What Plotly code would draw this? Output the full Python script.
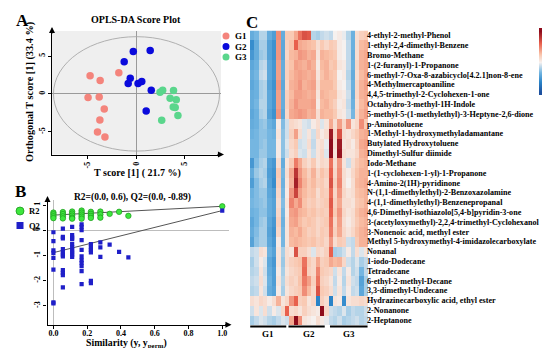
import plotly.graph_objects as go

W, H = 550, 348
def px(x): return x / W
def py(y): return 1 - y / H

SERIF = "Liberation Serif"

# ---------------- Panel A data (OPLS-DA scores) ----------------
g1_t = [-4.70, -3.67, -1.76, -4.91, -3.77, -3.25, -3.70, -3.94, -3.18]
g1_o = [2.38, 1.76, 2.78, -0.48, -0.40, -1.98, -3.44, -5.02, -5.68]
g2_t = [-0.28, 1.45, -1.21, -0.59, -0.80, 0.21, 0.59, 1.56, 1.04]
g2_o = [5.60, 5.73, 4.23, 2.07, 1.37, 1.37, 1.63, 0.48, -2.25]
g3_t = [2.73, 2.46, 3.84, 3.49, 4.12, 3.81, 4.01, 4.29, 2.63]
g3_o = [0.48, 0.22, 0.44, -0.57, -0.79, -1.72, -1.81, -2.86, -3.48]
a_ticks = [-5, 0, 5]

# ---------------- Panel B data (permutation test) ----------------
r2_sim = [0, 0, 0, 0,
          0.056, 0.056, 0.056, 0.056,
          0.111, 0.111, 0.111, 0.111, 0.111,
          0.167, 0.167, 0.167, 0.167, 0.167,
          0.222, 0.222, 0.222, 0.222,
          0.278, 0.278, 0.278,
          0.333, 0.389, 0.444, 1.0]
r2_val = [0.70, 0.63, 0.55, 0.48,
          0.72, 0.64, 0.55, 0.47,
          0.74, 0.66, 0.58, 0.50, 0.46,
          0.78, 0.70, 0.62, 0.54, 0.46,
          0.73, 0.65, 0.57, 0.49,
          0.74, 0.63, 0.50,
          0.65, 0.73, 0.57, 0.95]
q2_sim = [0, 0, 0, 0, 0, 0, 0, 0,
          0.056, 0.056, 0.056, 0.056, 0.056, 0.056, 0.056, 0.056, 0.056, 0.056, 0.056,
          0.111, 0.111, 0.111, 0.111, 0.111, 0.111, 0.111, 0.111, 0.111, 0.111,
          0.167, 0.167, 0.167, 0.167, 0.167, 0.167, 0.167, 0.167, 0.167, 0.167, 0.167,
          0.222, 0.222, 0.222, 0.222, 0.222, 0.222,
          0.278, 0.278, 0.278,
          0.333, 0.389, 0.444, 1.0]
q2_val = [-0.08, -0.43, -0.80, -0.90, -1.10, -1.56, -2.86, -2.90,
          0.06, -0.26, -0.32, -0.75, -0.87, -0.97, -1.04, -1.58, -1.69, -1.78, -2.27,
          0.13, -0.19, -0.29, -0.35, -0.55, -0.68, -0.80, -0.88, -0.97, -1.06,
          0.23, 0.13, 0.00, -0.39, -0.78, -1.04, -1.19, -1.30, -1.43, -1.62, -2.14,
          -0.55, -0.68, -0.78, -0.88, -2.01, -2.10,
          -0.48, -0.68, -1.06,
          -0.57, -0.86, -1.08, 0.78]
fit_x = [0.0, 1.0]
r2_fit = [0.60, 0.95]
q2_fit = [-0.89, 0.78]
b_xticks = [0.0, 0.2, 0.4, 0.6, 0.8, 1.0]
b_xtext = ["0.0", "0.2", "0.4", "0.6", "0.8", "1.0"]
b_yticks = [-3, -2, -1, 0, 1]

# ---------------- Panel C data (heatmap) ----------------
compounds = [
    "4-ethyl-2-methyl-Phenol",
    "1-ethyl-2,4-dimethyl-Benzene",
    "Bromo-Methane",
    "1-(2-furanyl)-1-Propanone",
    "6-methyl-7-Oxa-8-azabicyclo[4.2.1]non-8-ene",
    "4-Methylmercaptoaniline",
    "4,4,5-trimethyl-2-Cyclohexen-1-one",
    "Octahydro-3-methyl-1H-Indole",
    "5-methyl-5-(1-methylethyl)-3-Heptyne-2,6-dione",
    "p-Aminotoluene",
    "1-Methyl-1-hydroxymethyladamantane",
    "Butylated Hydroxytoluene",
    "Dimethyl-Sulfur diimide",
    "Iodo-Methane",
    "1-(1-cyclohexen-1-yl)-1-Propanone",
    "4-Amino-2(1H)-pyridinone",
    "N-(1,1-dimethylethyl)-2-Benzoxazolamine",
    "4-(1,1-dimethylethyl)-Benzenepropanal",
    "4,6-Dimethyl-isothiazolo[5,4-b]pyridin-3-one",
    "3-(acetyloxymethyl)-2,2,4-trimethyl-Cyclohexanol",
    "3-Nonenoic acid, methyl ester",
    "Methyl 5-hydroxymethyl-4-imidazolecarboxylate",
    "Nonanal",
    "1-iodo-Dodecane",
    "Tetradecane",
    "6-ethyl-2-methyl-Decane",
    "3,3-dimethyl-Undecane",
    "Hydrazinecarboxylic acid, ethyl ester",
    "2-Nonanone",
    "2-Heptanone",
]
samples = list(range(27))
heat_values = [
    [-1.2, -1.0, -0.5, -0.5, -1.2, -1.5, 1.3, -1.2, 0.6,   0.6, 1.0, 1.6, 2.0, 1.9, -0.5, -0.6, -0.4, -0.3,   -0.4, 0.0, 0.1, -0.1, -0.5, -1.1, 0.3, 0.5, 0.6],
    [-1.8, -1.2, -0.6, -0.6, -1.4, -1.7, 1.2, -1.3, 0.5,   0.7, 1.8, 1.0, 0.9, 0.8, 0.7, 0.3, 0.6, 0.4,        0.6, 0.5, 0.1, 0.0, -0.4, -1.1, 0.3, 0.8, 0.9],
    [-1.6, -1.2, -0.7, -0.6, -1.4, -1.7, 1.2, -1.3, 0.4,   0.8, 0.9, 1.2, 1.1, 0.9, 1.0, 0.2, 0.9, 0.8,        0.7, 0.6, 0.1, 0.0, -0.4, -1.2, 0.3, 0.9, 1.0],
    [-1.3, -1.1, -0.5, -0.4, -1.3, -1.6, 1.1, -1.2, 0.5,   0.7, 1.1, 1.0, 0.9, 1.1, 0.9, 0.1, 0.8, 0.9,        0.6, 0.7, 0.2, 0.1, -0.4, -1.1, 0.4, 0.9, 1.0],
    [-1.2, -1.0, -0.4, -0.3, -1.3, -1.6, 1.1, -1.2, 0.5,   0.8, 1.0, 1.1, 1.0, 0.9, 1.0, 0.2, 0.7, 0.9,        0.7, 0.6, 0.0, 0.1, -0.5, -1.2, 0.3, 0.8, 1.0],
    [-1.3, -1.1, -0.6, -0.5, -1.4, -1.7, 1.2, -1.3, 0.4,   0.9, 1.0, 1.2, 0.9, 1.0, 1.1, 0.3, 0.8, 0.8,        0.8, 0.6, 0.1, 0.0, -0.4, -1.1, 0.4, 0.9, 1.1],
    [-1.2, -1.1, -0.6, -0.5, -1.3, -1.6, 1.1, -1.2, 0.5,   0.8, 1.1, 1.1, 1.0, 0.9, 1.0, 0.2, 0.9, 0.8,        0.7, 0.7, 0.2, 0.1, -0.3, -1.2, 0.4, 0.9, 1.0],
    [-1.2, -1.0, -0.5, -0.5, -1.3, -1.6, 1.1, -1.2, 0.5,   0.9, 1.2, 1.0, 1.0, 1.0, 1.1, 0.1, 0.8, 0.9,        0.7, 0.5, 0.1, 0.2, -0.4, -1.1, 0.3, 0.8, 1.0],
    [-1.3, -1.1, -0.6, -0.5, -1.4, -1.7, 1.2, -1.3, 0.4,   1.0, 1.1, 1.2, 1.1, 0.9, 1.0, 0.3, 0.9, 0.8,        0.8, 0.6, 0.2, 0.1, -0.3, -1.0, 0.4, 0.9, 1.1],
    [-1.2, -1.1, -0.8, -0.7, -1.1, -1.3, 0.1, -0.9, -0.3,  0.4, 0.3, 0.2, -0.2, -0.3, 0.1, 0.3, -0.2, 0.2,     1.0, 0.3, 1.1, 0.4, 1.2, 0.2, 0.4, 1.3, 0.6],
    [-1.1, -1.0, -0.8, -0.8, -1.0, -1.1, 0.2, -0.8, -0.3,  0.5, 1.1, 0.3, -0.2, 0.2, -0.3, 0.4, 0.1, 0.3,      2.8, 0.4, 2.0, 0.3, 0.2, 0.4, 0.6, 0.9, 1.0],
    [-1.0, -1.0, -0.8, -0.7, -1.0, -1.0, 0.1, -0.8, -0.2,  0.4, 0.6, -0.3, -0.2, 0.3, -0.4, 0.2, 0.3, -0.1,    3.0, 0.3, 2.8, 0.2, 0.3, 0.1, 0.5, 1.0, 1.1],
    [-1.0, -1.0, -0.7, -0.7, -1.0, -1.0, 0.1, -0.8, -0.3,  0.3, 0.5, -0.2, -0.3, 0.2, -0.3, 0.2, 0.4, -0.2,    3.0, 0.2, 2.9, 0.3, 0.2, 0.2, 0.4, 0.9, 1.0],
    [-1.6, -0.9, -0.6, -0.5, -1.4, -1.6, 0.3, -1.2, 0.2,   0.6, 1.5, 1.0, 0.5, 0.3, 0.6, 0.2, 0.4, 0.3,        1.6, 0.3, 1.2, 0.2, -0.3, 0.3, 0.6, 0.8, 0.9],
    [-1.2, -0.7, -0.5, -0.6, -1.5, -1.7, 0.6, -1.0, 0.3,   1.0, 2.4, 1.2, 0.8, 0.5, 0.9, 0.4, 0.7, 0.5,        1.8, 0.4, 1.3, 0.3, 0.1, 0.4, 0.7, 0.9, 0.9],
    [-1.5, -0.9, -0.6, -0.5, -1.4, -1.8, 0.5, -1.1, 0.2,   0.9, 2.7, 1.4, 0.9, 0.6, 0.8, 0.5, 0.6, 0.4,        2.0, 0.5, 1.4, 0.3, 0.0, 0.3, 0.8, 0.9, 1.0],
    [-1.1, -0.9, -0.7, -0.7, -1.3, -1.5, 0.4, -1.0, 0.1,   1.2, 2.2, 1.1, 0.8, 0.6, 0.7, 0.3, 0.6, 0.5,        1.7, 0.4, 1.2, 0.4, 0.2, 0.3, 0.7, 0.8, 0.9],
    [-1.0, -0.9, -0.8, -0.7, -1.2, -1.4, 0.3, -0.9, 0.2,   1.4, 1.0, 1.3, 0.7, 0.5, 0.6, 0.4, 0.5, 0.6,        1.9, 0.5, 1.0, 0.3, 0.3, 0.2, 0.6, 0.7, 0.9],
    [-1.1, -1.0, -0.8, -0.8, -1.2, -1.4, 0.4, -1.0, 0.1,   1.1, 1.2, 0.9, 0.8, 0.6, 0.7, 0.5, 0.6, 0.5,        1.8, 0.6, 1.2, 0.4, 0.2, 0.3, 0.7, 0.9, 1.0],
    [-1.3, -1.0, -0.7, -0.6, -1.3, -1.6, 0.5, -1.1, 0.2,   1.0, 1.1, 0.8, 0.6, 0.7, 0.6, 0.4, 0.5, 0.6,        1.6, 0.4, 1.1, 0.3, 0.1, 0.3, 0.6, 0.8, 0.9],
    [-1.2, -0.9, -0.6, -0.6, -1.4, -1.7, 0.4, -1.0, 0.2,   0.9, 0.8, 1.0, 0.7, 0.5, 0.6, 0.4, 0.6, 0.5,        1.5, 0.5, 1.0, 0.4, 0.2, 0.4, 0.7, 0.9, 1.0],
    [-1.4, -0.8, -0.6, -0.6, -1.3, -1.6, 0.1, -1.0, 0.2,   0.8, 0.9, 0.8, 0.7, 0.6, 0.7, 0.5, 0.6, 0.4,        1.2, 0.3, 0.6, 0.5, -0.3, -0.4, 0.6, 0.9, 0.9],
    [-0.4, -0.3, 0.3, 0.2, -1.1, -1.4, 0.2, -0.6, 0.3,     0.2, 2.0, 0.5, 0.5, 0.3, -0.2, 0.4, 0.3, 0.5,       1.8, -0.6, -0.5, -0.3, 0.1, -0.4, 0.3, -0.2, 0.2],
    [-0.6, -0.3, 0.1, -0.2, -1.3, -1.6, 0.2, -0.7, 0.3,    0.5, 0.6, 0.7, 1.6, 0.6, 0.4, 1.0, 0.5, 0.6,        1.0, 0.8, 0.9, 0.4, -0.3, -0.5, -0.2, -0.6, -0.4],
    [-0.5, -0.4, 0.2, -0.3, -1.2, -1.5, 0.1, -0.6, 0.2,    0.4, 0.5, 0.6, 1.7, 0.5, 0.4, 1.4, 0.6, 0.5,        0.4, -0.3, 0.2, -0.4, 0.1, -0.5, -0.3, -1.0, -0.4],
    [-0.4, -0.3, 0.3, -0.2, -1.1, -1.5, 0.2, -0.5, 0.3,    0.5, 0.4, 0.7, 1.5, 1.1, 0.5, 1.6, 0.5, 0.4,        0.2, -0.4, 0.1, -0.5, 0.2, -0.3, -0.4, -1.4, -0.6],
    [-0.5, -0.4, 0.2, -0.3, -1.2, -1.4, 0.1, -0.6, 0.2,    0.4, 0.5, 0.6, 1.3, 0.8, 0.4, 2.0, 0.6, 0.5,        0.3, -0.3, 0.2, -0.4, 0.1, -0.4, -0.3, -1.3, -0.6],
    [0.3, 0.2, 0.4, 0.3, 0.1, 0.3, 0.9, 0.2, 0.4,          1.2, 1.8, 0.5, 0.6, 0.2, 0.4, -2.0, 0.5, 0.3,       -2.0, 0.2, 0.1, -1.8, 0.2, 0.3, 0.3, 0.4, 0.3],
    [-0.3, 0.2, -0.2, 0.3, -0.3, 0.1, -0.2, 0.4, 1.8,      0.3, 0.4, 0.2, 0.5, 0.3, 0.2, 0.1, 3.0, 0.4,        -0.3, -0.4, -0.5, -0.2, -0.6, -0.4, -0.5, -0.5, -0.3],
    [-0.6, -0.4, -0.2, -0.3, -0.5, -0.6, -0.4, -0.2, -0.3, 1.0, 3.0, 1.3, 0.2, 0.1, 0.0, 0.3, 0.1, -0.1,       -0.4, -0.5, -0.3, -0.6, -0.5, -0.4, -0.3, -0.5, -0.4],
]
group_names = ["G1", "G2", "G3"]

# colour key: levels shown as a slim strip, with its tick labels
cbar_levels = [-3.0, -2.5, -2.0, -1.5, -1.0, -0.5, 0.0, 0.5, 1.0, 1.5, 2.0, 2.5, 3.0]
cbar_ticks = [3, 2, 1, 0, -1, -2, -3]

colorscale = [
    [0.0, "#1d4f9e"], [0.17, "#2a84c8"], [0.33, "#72b5e1"], [0.5, "#f6f1ef"],
    [0.62, "#f9c2a8"], [0.8, "#e8604d"], [1.0, "#8e0c1c"],
]

fig = go.Figure()

# Panel A scatter
for t, o, col, nm in [(g1_t, g1_o, "#f4847c", "G1"),
                      (g2_t, g2_o, "#0a0adc", "G2"),
                      (g3_t, g3_o, "#5ad68c", "G3")]:
    fig.add_trace(go.Scatter(x=t, y=o, mode="markers", name=nm, showlegend=False,
                             marker=dict(size=7.5, color=col), xaxis="x", yaxis="y"))

# Panel B
fig.add_trace(go.Scatter(x=fit_x, y=r2_fit, mode="lines", line=dict(color="#555", width=1),
                         showlegend=False, xaxis="x2", yaxis="y2"))
fig.add_trace(go.Scatter(x=fit_x, y=q2_fit, mode="lines", line=dict(color="#555", width=1),
                         showlegend=False, xaxis="x2", yaxis="y2"))
fig.add_trace(go.Scatter(x=r2_sim, y=r2_val, mode="markers", name="R2", showlegend=False,
                         marker=dict(size=5.5, color="#3ee63e", line=dict(color="#1c9a1c", width=0.7)),
                         xaxis="x2", yaxis="y2"))
fig.add_trace(go.Scatter(x=q2_sim, y=q2_val, mode="markers", name="Q2", showlegend=False,
                         marker=dict(size=4.2, symbol="square", color="#1f1fc8"),
                         xaxis="x2", yaxis="y2"))

# Panel C heatmap
fig.add_trace(go.Heatmap(
    z=heat_values, x=samples, y=compounds, colorscale=colorscale, zmin=-3, zmax=3,
    xaxis="x3", yaxis="y3", showscale=False,
))
# colour key strip
fig.add_trace(go.Heatmap(
    z=[[v] for v in cbar_levels], x=[0], y=cbar_levels, colorscale=colorscale,
    zmin=-3, zmax=3, zsmooth="best", showscale=False, xaxis="x4", yaxis="y4",
))

tickfont = dict(family=SERIF, size=8, color="black", weight="bold")

fig.update_layout(
    width=W, height=H, margin=dict(l=0, r=0, t=0, b=0),
    paper_bgcolor="white", plot_bgcolor="rgba(0,0,0,0)",
    font=dict(family=SERIF, color="black"),
    xaxis=dict(domain=[px(44), px(213)], range=[-8.6, 8.7], anchor="y",
               tickvals=a_ticks, ticktext=[str(v) for v in a_ticks], tickangle=-90,
               showline=True, linecolor="black", linewidth=1.2, ticks="outside", ticklen=3,
               tickcolor="black", showgrid=False, zeroline=True, zerolinecolor="#9a9a9a",
               zerolinewidth=0.8, tickfont=tickfont),
    yaxis=dict(domain=[py(146.5), py(23)], range=[-8.0, 8.3], anchor="x",
               tickvals=a_ticks, ticktext=[str(v) for v in a_ticks], tickangle=-90,
               showline=True, linecolor="black", linewidth=1.2, ticks="outside", ticklen=3,
               tickcolor="black", showgrid=False, zeroline=True, zerolinecolor="#9a9a9a",
               zerolinewidth=0.8, tickfont=tickfont),
    xaxis2=dict(domain=[px(39.5), px(221)], range=[-0.035, 1.04], anchor="y2",
                tickvals=b_xticks, ticktext=b_xtext, ticklabelstandoff=-2,
                showline=True, linecolor="black", linewidth=1.2, ticks="outside", ticklen=3,
                tickcolor="black", showgrid=False, zeroline=True, zerolinecolor="#bdbdbd",
                zerolinewidth=0.8, tickfont=tickfont),
    yaxis2=dict(domain=[py(316.7), py(192)], range=[-3.75, 1.2], anchor="x2",
                tickvals=b_yticks, ticktext=[str(v) for v in b_yticks], tickangle=-90,
                showline=True, linecolor="black", linewidth=1.2, ticks="outside", ticklen=3,
                tickcolor="black", showgrid=False, zeroline=True, zerolinecolor="#bdbdbd",
                zerolinewidth=0.8, tickfont=tickfont),
    xaxis3=dict(domain=[px(242), px(360)], range=[-0.5, 26.5], anchor="y3", visible=False),
    yaxis3=dict(domain=[py(317), py(22.5)], anchor="x3", side="right", autorange="reversed",
                tickmode="array", tickvals=compounds, ticktext=compounds,
                ticks="", showgrid=False, zeroline=False, showline=False,
                ticklabelstandoff=-2,
                tickfont=dict(family=SERIF, size=8.1, color="black", weight="bold")),
    xaxis4=dict(domain=[px(531), px(536)], range=[-0.5, 0.5], anchor="y4", visible=False),
    yaxis4=dict(domain=[py(87), py(20)], range=[-3.25, 3.25], anchor="x4", side="right",
                tickvals=cbar_ticks, ticktext=[str(v) for v in cbar_ticks],
                ticks="", showgrid=False, zeroline=False, showline=False,
                ticklabelstandoff=1, automargin=False,
                tickfont=dict(family=SERIF, size=5.5, color="black")),
)

shapes = []
# grey background of score plot
shapes.append(dict(type="rect", xref="x domain", yref="y domain", x0=0, x1=1, y0=0, y1=1,
                   fillcolor="#efefef", line=dict(width=0), layer="below"))
# confidence ellipse
shapes.append(dict(type="circle", xref="x", yref="y", x0=-8.45, x1=8.55, y0=-7.55, y1=7.55,
                   line=dict(color="#a8a8a8", width=0.9)))
# group bars under heatmap
for x0, x1 in [(-0.45, 7.8), (8.3, 16.6), (17.8, 26.4)]:
    shapes.append(dict(type="line", xref="x3", yref="paper", x0=x0, x1=x1,
                       y0=py(318.5), y1=py(318.5), line=dict(color="black", width=1.8)))
# manual legend A
for i, col in enumerate(["#f4847c", "#0a0adc", "#5ad68c"]):
    cy = 28 + i * 10.5
    shapes.append(dict(type="circle", xref="paper", yref="paper",
                       x0=px(214.5), x1=px(221.5), y0=py(cy + 3.5), y1=py(cy - 3.5),
                       fillcolor=col, line=dict(width=0)))
# manual legend B
shapes.append(dict(type="circle", xref="paper", yref="paper",
                   x0=px(8), x1=px(16), y0=py(207), y1=py(199),
                   fillcolor="#3ee63e", line=dict(color="#1c9a1c", width=0.8)))
shapes.append(dict(type="rect", xref="paper", yref="paper",
                   x0=px(8.5), x1=px(15.5), y0=py(221), y1=py(214),
                   fillcolor="#1f1fc8", line=dict(width=0)))
fig.update_layout(shapes=shapes)

ann = []
def text(x, y, s, size, angle=0, xanchor="center"):
    ann.append(dict(x=px(x), y=py(y), xref="paper", yref="paper", text=s, showarrow=False,
                    xanchor=xanchor, yanchor="middle", textangle=angle,
                    font=dict(family=SERIF, size=size, color="black", weight="bold")))

text(14, 13, "A", 17)
text(12, 183, "B", 17)
text(244, 14, "C", 17)
text(128, 12, "OPLS-DA Score Plot", 10)
text(129, 165, "T score [1] ( 21.7 %)", 10)
text(22, 84, "Orthogonal T score [1] (33.4 %)", 10.3, angle=-90)
for i, nm in enumerate(group_names):
    text(225, 28 + i * 10.5, nm, 9, xanchor="left")
text(19, 203, "R2", 8.5, xanchor="left")
text(19, 217.5, "Q2", 8.5, xanchor="left")
text(124, 189, "R2=(0.0, 0.6), Q2=(0.0, -0.89)", 9.5)
text(118, 335, "Similarity (y, y<sub>perm</sub>)", 9.8)
for cx, nm in zip([260, 300.5, 341], group_names):
    text(cx, 326, nm, 9)

# axis arrows
def arrow(x, y, axp, ayp):
    ann.append(dict(x=px(x), y=py(y), xref="paper", yref="paper", ax=axp, ay=ayp,
                    axref="pixel", ayref="pixel", text="", showarrow=True,
                    arrowhead=2, arrowsize=1.1, arrowwidth=1.1, arrowcolor="black"))
arrow(44, 19, 0, 8)
arrow(216, 146.5, -8, 0)
arrow(39.5, 188, 0, 8)
arrow(223.5, 316.7, -8, 0)

fig.update_layout(annotations=ann)

fig.write_html("out.html", config={"displayModeBar": False})
